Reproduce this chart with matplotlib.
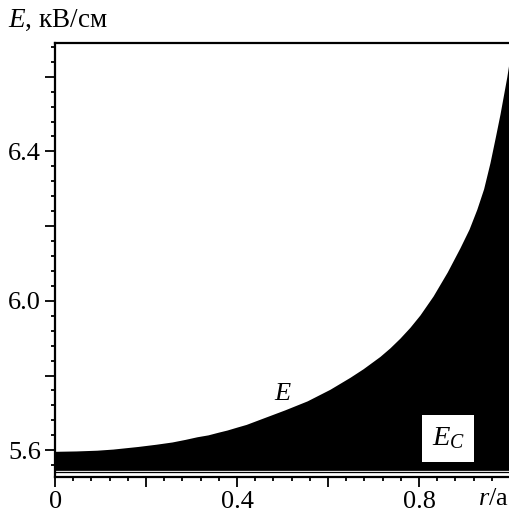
import matplotlib
matplotlib.use("Agg")
import matplotlib.pyplot as plt
from matplotlib.ticker import MultipleLocator, FuncFormatter
from matplotlib.patches import Rectangle

plt.rcParams['font.family'] = ['Liberation Serif', 'DejaVu Serif']
plt.rcParams['mathtext.fontset'] = 'custom'
plt.rcParams['mathtext.rm'] = 'Liberation Serif'
plt.rcParams['mathtext.it'] = 'Liberation Serif:italic'

# r/a и E (кВ/см)
r = [0.0, 0.046, 0.092, 0.127, 0.182, 0.222, 0.257, 0.286, 0.312, 0.336, 0.358,
     0.378, 0.40, 0.42, 0.457, 0.505, 0.554, 0.604, 0.648, 0.677, 0.714, 0.736,
     0.758, 0.780, 0.802, 0.831, 0.862, 0.89, 0.91, 0.927, 0.942, 0.956, 0.968,
     0.978, 0.993, 1.0]
E = [5.597, 5.598, 5.600, 5.603, 5.610, 5.616, 5.622, 5.629, 5.636, 5.641, 5.648,
     5.654, 5.662, 5.669, 5.686, 5.708, 5.732, 5.763, 5.795, 5.818, 5.851, 5.874,
     5.900, 5.929, 5.962, 6.013, 6.077, 6.142, 6.192, 6.245, 6.300, 6.370, 6.440,
     6.500, 6.600, 6.655]
E_c = 5.546

fig = plt.figure(figsize=(5.1, 5.13), dpi=100)
ax = fig.add_axes([0.108, 0.070, 0.892, 0.846])

ax.fill_between(r, E_c, E, color='black', linewidth=0)
ax.axhline(5.5405, color='black', lw=0.9)

ax.set_xlim(0, 1.0)
ax.set_ylim(5.528, 6.69)

ax.xaxis.set_major_locator(MultipleLocator(0.2))
ax.xaxis.set_minor_locator(MultipleLocator(0.04))
ax.yaxis.set_major_locator(MultipleLocator(0.2))
ax.yaxis.set_minor_locator(MultipleLocator(0.04))

def xfmt(v, pos):
    if abs(v) < 1e-9:
        return '0'
    if abs(v / 0.4 - round(v / 0.4)) < 1e-6 and v < 0.99:
        return '%.1f' % v
    return ''

def yfmt(v, pos):
    if abs(v / 0.4 - round(v / 0.4)) < 1e-6:
        return '%.1f' % v
    return ''

ax.xaxis.set_major_formatter(FuncFormatter(xfmt))
ax.yaxis.set_major_formatter(FuncFormatter(yfmt))

ax.tick_params(which='major', direction='out', length=7, width=1.3, labelsize=19, pad=3)
ax.tick_params(which='minor', direction='out', length=3, width=1.3)
ax.tick_params(top=False, right=False, which='both')

for s in ['left', 'bottom', 'top']:
    ax.spines[s].set_linewidth(1.6)
ax.spines['right'].set_linewidth(0.8)
ax.spines['right'].set_color('gray')

ax.text(0.501, 5.750, '$E$', fontsize=19, ha='center', va='center')
ax.add_patch(Rectangle((0.807, 5.568), 0.114, 0.126, facecolor='white',
                       edgecolor='none', zorder=3))
ax.text(0.864, 5.631, '$E_C$', fontsize=20.5, ha='center', va='center', zorder=4)

fig.text(0.998, 0.005, '$r$/a', fontsize=19, ha='right', va='bottom')
fig.text(0.015, 0.961, '$E$, кВ/см', fontsize=19.5, ha='left', va='center')

fig.savefig('out.png', dpi=100)
